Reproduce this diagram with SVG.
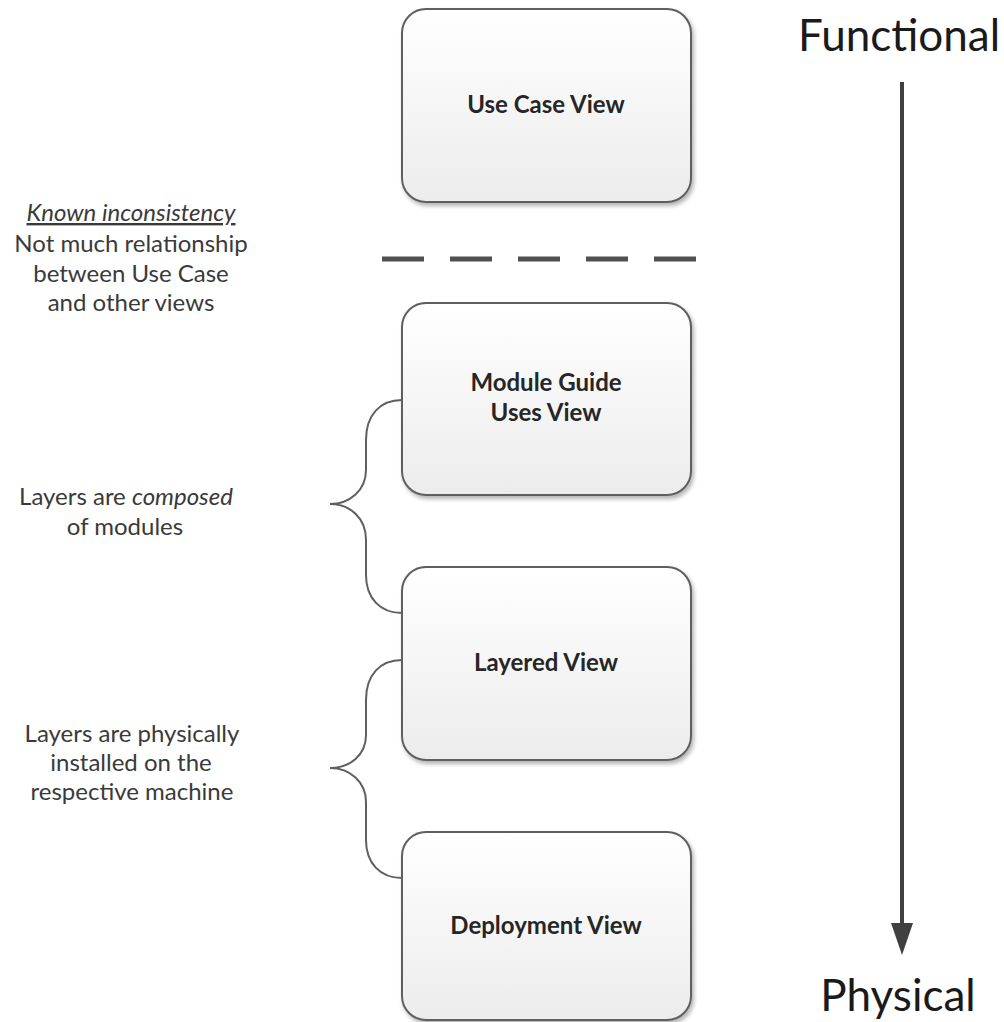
<svg xmlns="http://www.w3.org/2000/svg" width="1004" height="1022" viewBox="0 0 1004 1022">
<defs>
<linearGradient id="g" x1="0" y1="0" x2="0" y2="1"><stop offset="0" stop-color="#ffffff"/><stop offset="1" stop-color="#ececec"/></linearGradient>
<filter id="sh" x="-10%" y="-10%" width="125%" height="125%"><feGaussianBlur in="SourceAlpha" stdDeviation="2"/><feOffset dx="2" dy="3"/><feComponentTransfer><feFuncA type="linear" slope="0.3"/></feComponentTransfer><feMerge><feMergeNode/><feMergeNode in="SourceGraphic"/></feMerge></filter>
</defs>
<style>
.box{fill:url(#g);stroke:#5f5f5f;stroke-width:2;filter:url(#sh)}
.lbl{font-family:Lato,"Liberation Sans",sans-serif;font-weight:bold;font-size:24px;fill:#262626;text-anchor:middle}
.note{font-family:Lato,"Liberation Sans",sans-serif;font-size:24px;fill:#3a3a3a;text-anchor:middle}
.big{font-family:Lato,"Liberation Sans",sans-serif;font-size:44px;fill:#1a1a1a;text-anchor:middle}
.br{fill:none;stroke:#5f5f5f;stroke-width:2}
</style>
<g id="usecase"><rect class="box" x="402" y="9" width="289" height="193" rx="24"/><text class="lbl" x="546" y="113">Use Case View</text></g>
<g id="module"><rect class="box" x="402" y="303" width="289" height="192" rx="24"/><text class="lbl" x="546" y="391">Module Guide</text><text class="lbl" x="546" y="421">Uses View</text></g>
<g id="layered"><rect class="box" x="402" y="567" width="289" height="193" rx="24"/><text class="lbl" x="546" y="671">Layered View</text></g>
<g id="deployment"><rect class="box" x="402" y="832" width="289" height="188" rx="24"/><text class="lbl" x="546" y="934">Deployment View</text></g>
<g id="axis">
<text class="big" x="899" y="51">Functional</text>
<text class="big" x="898" y="1011">Physical</text>
</g>
<g id="notes">
<text class="note" x="131" y="221" font-style="italic" text-decoration="underline">Known inconsistency</text>
<text class="note" x="131" y="252">Not much relationship</text>
<text class="note" x="131" y="282">between Use Case</text>
<text class="note" x="131" y="311">and other views</text>
<text class="note" x="126" y="505">Layers are <tspan font-style="italic">composed</tspan></text>
<text class="note" x="125" y="535">of modules</text>
<text class="note" x="132" y="742">Layers are physically</text>
<text class="note" x="131" y="771">installed on the</text>
<text class="note" x="132" y="800">respective machine</text>
</g>
<g id="connectors">
<line x1="382" y1="259" x2="700" y2="259" stroke="#505050" stroke-width="5" stroke-dasharray="42 26"/>
<line x1="902" y1="82" x2="902" y2="930" stroke="#404040" stroke-width="4"/>
<path d="M891,923 L913,923 L902,955 Z" fill="#404040"/>
<path class="br" d="M402,400 C380,400 366,415 366,440 L366,470 C366,490 350,504 330,504 C350,504 366,518 366,540 L366,575 C366,598 380,613 402,613"/>
<path class="br" d="M402,660 C380,660 366,675 366,700 L366,735 C366,755 350,768 330,768 C350,768 366,782 366,802 L366,840 C366,863 380,878 402,878"/>
</g>
</svg>
